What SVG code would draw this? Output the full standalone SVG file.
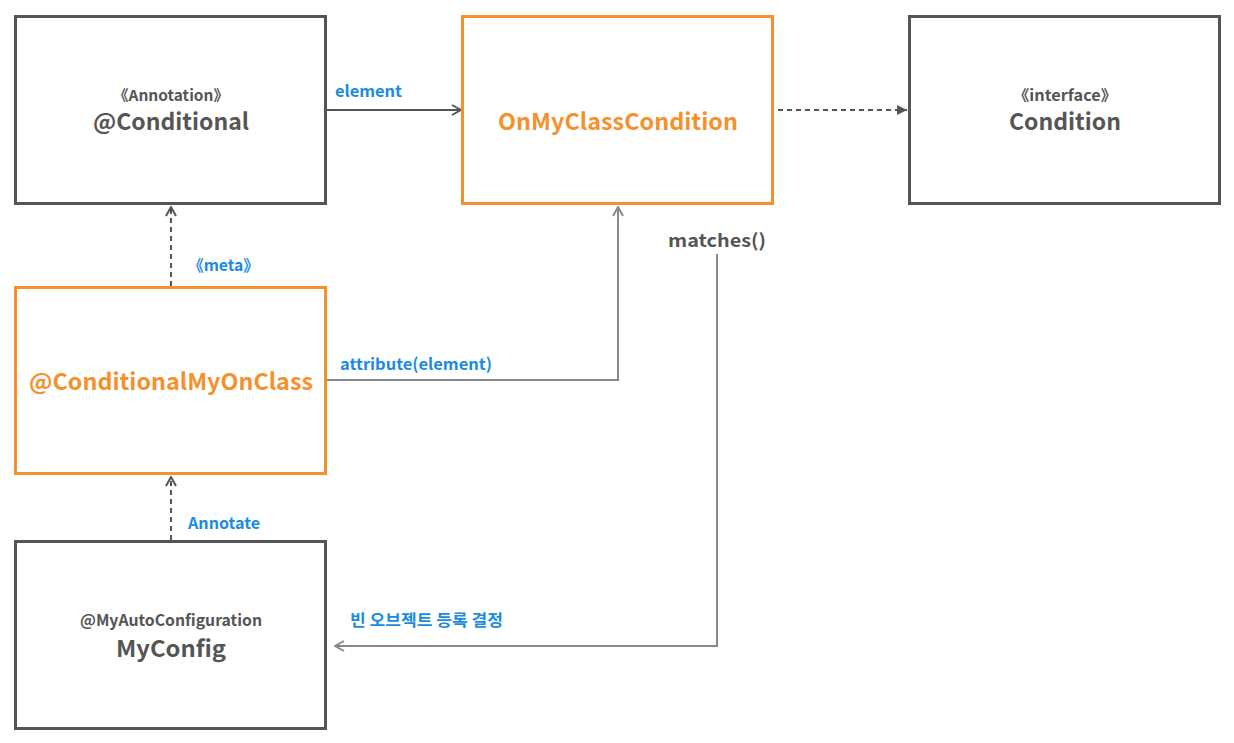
<svg xmlns="http://www.w3.org/2000/svg" width="1234" height="743" viewBox="0 0 1234 743">
<defs>
<style>
.box{fill:#fff;stroke-width:3}
.dark{stroke:#555}
.orange{stroke:#F5912D}
.t{font-family:"Noto Sans CJK KR","Noto Sans",sans-serif;font-weight:700;text-anchor:middle}
.title{font-size:23px}
.stereo{font-size:15px;fill:#555;font-weight:700}
.gray{fill:#555}
.or{fill:#F5912D}
.lbl{font-family:"Noto Sans CJK KR","Noto Sans",sans-serif;font-weight:700;font-size:16px;fill:#1A8BE0}
.c{fill:none;stroke-width:2}
</style>
<marker id="openD" viewBox="0 0 12 12" refX="11" refY="6" markerWidth="12" markerHeight="12" markerUnits="userSpaceOnUse" orient="auto">
<path d="M2,1 L11,6 L2,11" fill="none" stroke="#555" stroke-width="2"/>
</marker>
<marker id="openG" viewBox="0 0 12 12" refX="11" refY="6" markerWidth="12" markerHeight="12" markerUnits="userSpaceOnUse" orient="auto">
<path d="M2,1 L11,6 L2,11" fill="none" stroke="#888" stroke-width="2"/>
</marker>
<marker id="tri" viewBox="0 0 10 10" refX="10" refY="5" markerWidth="10" markerHeight="10" markerUnits="userSpaceOnUse" orient="auto">
<path d="M0,0 L10,5 L0,10 Z" fill="#555"/>
</marker>
</defs>
<rect width="1234" height="743" fill="#fff"/>

<g id="connectors">
<line class="c" x1="326" y1="110" x2="461" y2="110" stroke="#555" marker-end="url(#openD)"/>
<line class="c" x1="778" y1="110" x2="907" y2="110" stroke="#555" stroke-dasharray="5,4" marker-end="url(#tri)"/>
<line class="c" x1="171" y1="286" x2="171" y2="207" stroke="#555" stroke-dasharray="5,4" marker-end="url(#openD)"/>
<line class="c" x1="171" y1="540" x2="171" y2="477" stroke="#555" stroke-dasharray="5,4" marker-end="url(#openD)"/>
<polyline class="c" points="327,380 618,380 618,207" stroke="#888" marker-end="url(#openG)"/>
<polyline class="c" points="717,254 717,646 335,646" stroke="#888" marker-end="url(#openG)"/>
<text class="lbl" x="335" y="97" textLength="67" lengthAdjust="spacingAndGlyphs">element</text>
<text class="lbl" x="188" y="271" textLength="71" lengthAdjust="spacingAndGlyphs">《meta》</text>
<text class="lbl" x="340" y="370" textLength="152" lengthAdjust="spacingAndGlyphs">attribute(element)</text>
<text class="lbl" x="188" y="529" textLength="72" lengthAdjust="spacingAndGlyphs">Annotate</text>
<text class="lbl" x="350" y="626" textLength="153" lengthAdjust="spacingAndGlyphs">빈 오브젝트 등록 결정</text>
<text class="t gray" x="717" y="247" font-size="18" textLength="98" lengthAdjust="spacingAndGlyphs">matches()</text>
</g>

<g id="node-conditional">
<rect class="box dark" x="15.5" y="16.5" width="310" height="187"/>
<text class="t stereo" x="171" y="101" textLength="116" lengthAdjust="spacingAndGlyphs">《Annotation》</text>
<text class="t title gray" x="171" y="130" textLength="156" lengthAdjust="spacingAndGlyphs">@Conditional</text>
</g>

<g id="node-onmyclasscondition">
<rect class="box orange" x="462.5" y="16.5" width="310" height="187"/>
<text class="t title or" x="618" y="130" textLength="240" lengthAdjust="spacingAndGlyphs">OnMyClassCondition</text>
</g>

<g id="node-condition">
<rect class="box dark" x="909.5" y="16.5" width="310" height="187"/>
<text class="t stereo" x="1065" y="101" textLength="104" lengthAdjust="spacingAndGlyphs">《interface》</text>
<text class="t title gray" x="1065" y="130" textLength="112" lengthAdjust="spacingAndGlyphs">Condition</text>
</g>

<g id="node-conditionalmyonclass">
<rect class="box orange" x="15.5" y="287.5" width="310" height="186"/>
<text class="t title or" x="171" y="390" textLength="284" lengthAdjust="spacingAndGlyphs">@ConditionalMyOnClass</text>
</g>

<g id="node-myconfig">
<rect class="box dark" x="15.5" y="541.5" width="310" height="187"/>
<text class="t stereo" x="171" y="626" textLength="182" lengthAdjust="spacingAndGlyphs" style="font-size:16px">@MyAutoConfiguration</text>
<text class="t title gray" x="171" y="657" textLength="110" lengthAdjust="spacingAndGlyphs">MyConfig</text>
</g>
</svg>
